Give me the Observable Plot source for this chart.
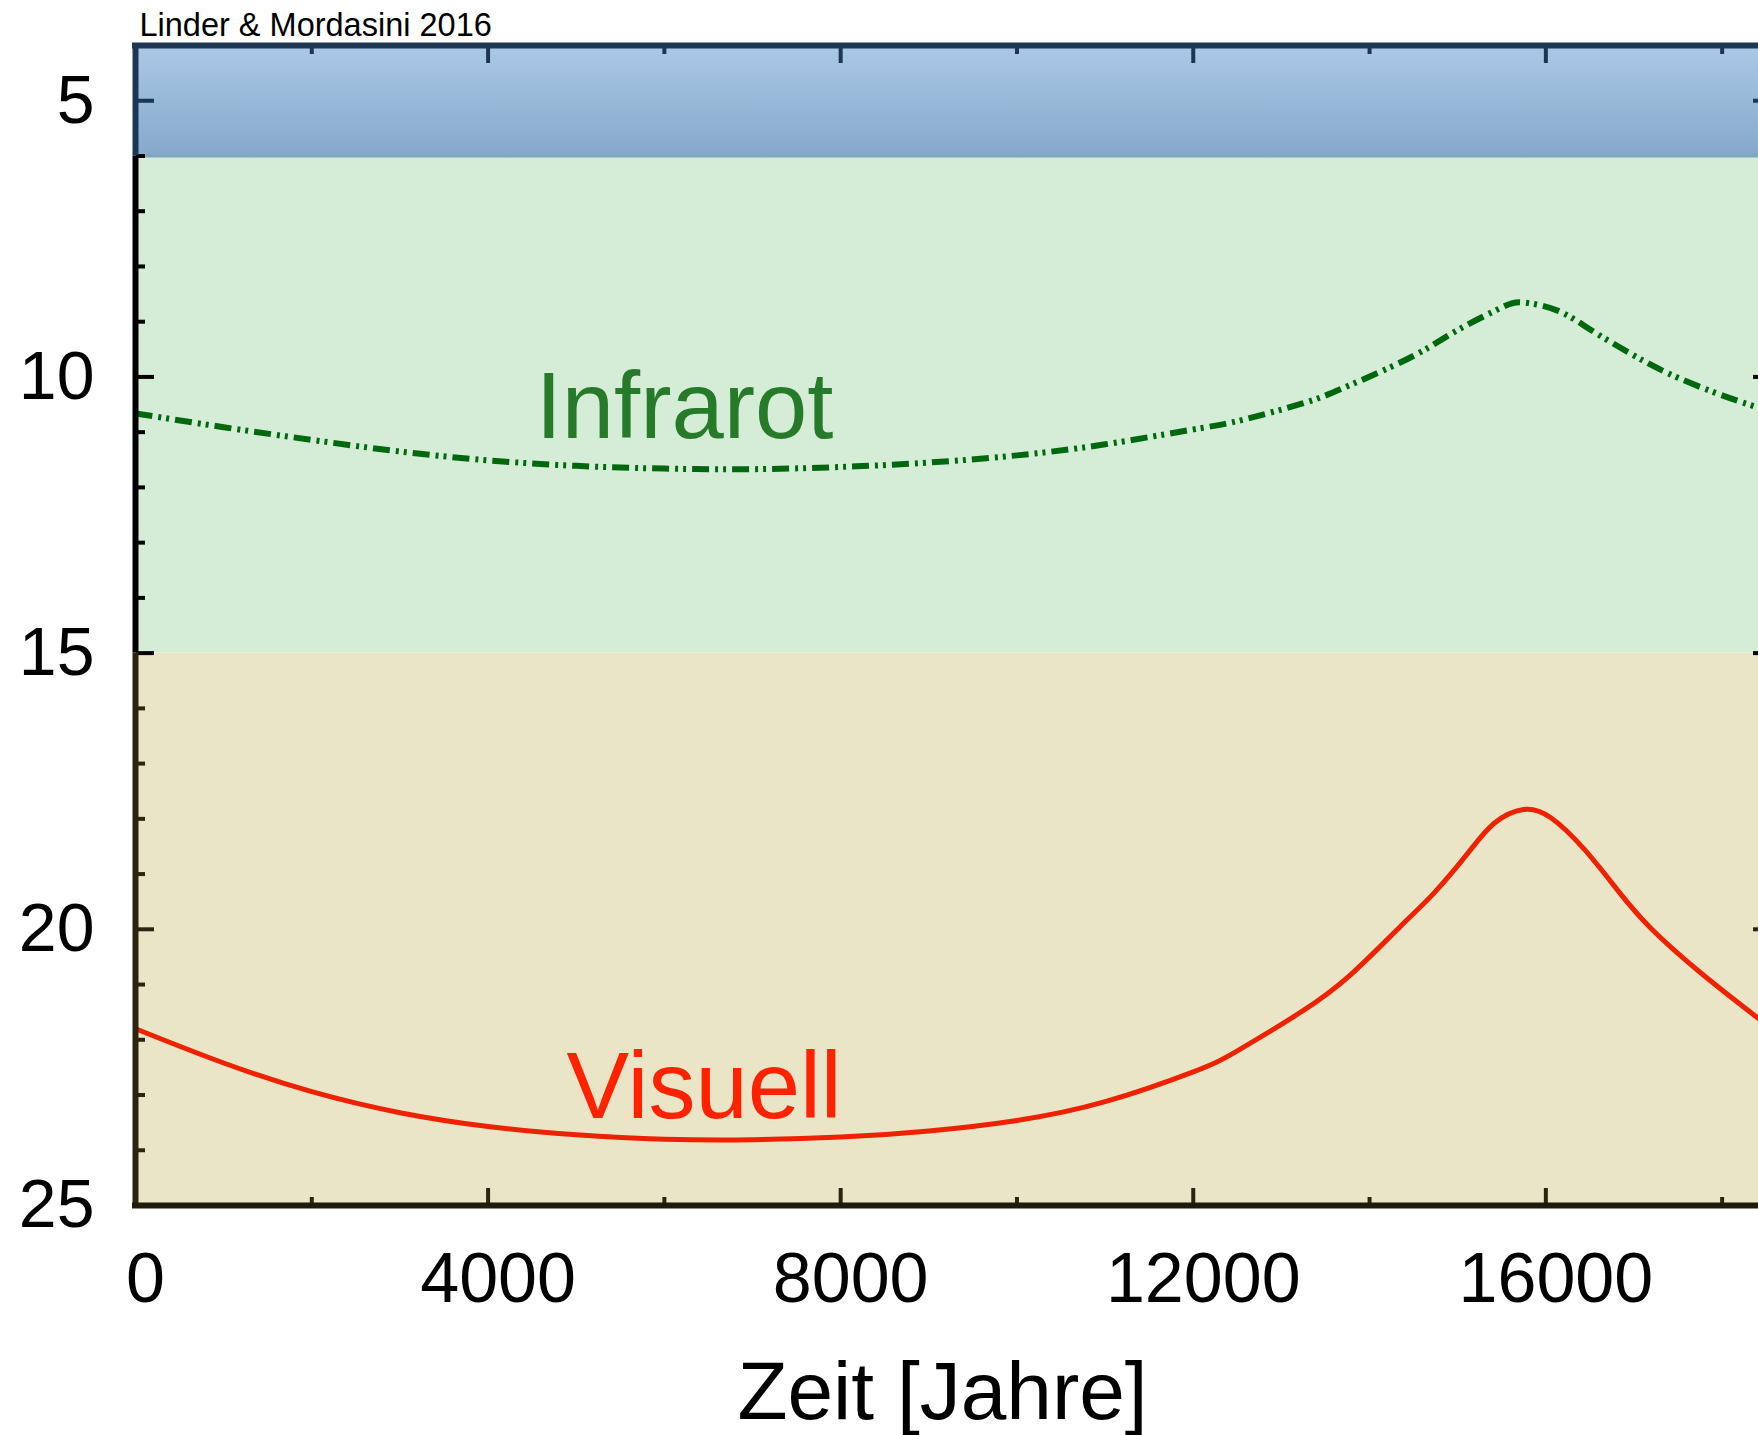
<!DOCTYPE html>
<html><head><meta charset="utf-8">
<script src="https://cdn.jsdelivr.net/npm/d3@7"></script>
<script src="https://cdn.jsdelivr.net/npm/@observablehq/plot@0.6"></script>
<style>
html,body{margin:0;padding:0;background:#fff;overflow:hidden;width:1758px;height:1435px}
#chart{width:1758px;height:1435px;overflow:hidden}
#chart svg{display:block;max-width:none !important;width:1776px !important;height:1435px !important}
</style>
</head><body><div id="chart"></div>
<script>
// ---- data ----
const irYears = [0,1000,2000,3000,4000,5000,6000,7000,8000,9000,10000,11000,12000,12500,13220,13674,14241,14657,15035,15489,15736,16133,16511,16965,17381,17910,18417];
const irMag   = [10.66,10.91,11.14,11.35,11.51,11.61,11.66,11.67,11.63,11.55,11.42,11.22,10.95,10.80,10.49,10.22,9.82,9.48,9.12,8.75,8.65,8.80,9.15,9.58,9.93,10.28,10.56];
const visYears = [0,1000,2000,3000,4000,5000,6000,7000,8000,9000,10000,11000,12000,12500,13220,13787,14355,14733,15111,15414,15747,16057,16435,16813,17191,17759,18417];
const visMag   = [21.80,22.42,22.94,23.32,23.57,23.72,23.80,23.81,23.76,23.65,23.46,23.12,22.58,22.20,21.50,20.82,19.94,19.34,18.63,18.08,17.83,17.98,18.55,19.29,19.98,20.79,21.62];
const bandLow  = [4, 6, 15];
const bandHigh = [6, 15, 25];
const xMajorTicks = [0, 4000, 8000, 12000, 16000];
const xMinorTicks = [2000, 6000, 10000, 14000, 18000];
const yMajorTicks = [5, 10, 15, 20, 25];
const yMinorTicks = [4,6,7,8,9,11,12,13,14,16,17,18,19,21,22,23,24];
const labelNames = ["Infrarot", "Visuell"];
const labelYears = [4540, 4890];
const labelMags  = [11.10, 23.42];
const xLabel = "Zeit [Jahre]";
const credit = "Linder & Mordasini 2016";
const xDomain = [0, 18560];
const yDomain = [4, 25];

// ---- styles ----
const navy = "#1c3654", black = "#000000", brown = "#2a2410";
const bandFrame = [navy, black, brown];
const bandFill = ["url(#blueBand)", "#d5ecd6", "#ebe5c8"];
const irColor = "#00690f", visColor = "#ee2200";
const irText = "#267a2a", visText = "#ff2200";

const ir = irYears.map((t, i) => ({t, m: irMag[i]}));
const vis = visYears.map((t, i) => ({t, m: visMag[i]}));
const bands = bandLow.map((lo, i) => ({lo, hi: bandHigh[i]}));
const labels = labelNames.map((name, i) => ({name, t: labelYears[i], m: labelMags[i]}));
const bandIdx = v => v < 6 ? 0 : v <= 15 ? 1 : 2;

const marks = [];
// bands
bands.forEach((b, i) => marks.push(Plot.rect([b], {x1: xDomain[0], x2: xDomain[1], y1: "lo", y2: "hi", fill: bandFill[i]})));
marks.push(Plot.ruleY([6], {stroke: "#7ea8bf", strokeWidth: 3}));
// curves
marks.push(Plot.line(ir, {x: "t", y: "m", stroke: irColor, strokeWidth: 6, strokeDasharray: "17,6,3,5,3,6", strokeLinecap: "butt", curve: "natural"}));
marks.push(Plot.line(vis, {x: "t", y: "m", stroke: visColor, strokeWidth: 5, curve: "natural"}));
// inward ticks, left & right
[0, 1, 2].forEach(b => {
  const maj = yMajorTicks.filter(v => bandIdx(v) === b);
  const min = yMinorTicks.filter(v => bandIdx(v) === b);
  const common = {fill: "none", label: null, stroke: bandFrame[b], strokeWidth: 4};
  marks.push(Plot.axisY(maj, {...common, anchor: "right", frameAnchor: "left", tickSize: 18}));
  marks.push(Plot.axisY(min, {...common, anchor: "right", frameAnchor: "left", tickSize: 9}));
  marks.push(Plot.axisY(maj, {...common, anchor: "left", frameAnchor: "right", tickSize: 18}));
  marks.push(Plot.axisY(min, {...common, anchor: "left", frameAnchor: "right", tickSize: 9}));
});
// inward ticks, top & bottom
marks.push(Plot.axisX(xMajorTicks, {fill: "none", label: null, stroke: navy, strokeWidth: 4, anchor: "bottom", frameAnchor: "top", tickSize: 18}));
marks.push(Plot.axisX(xMinorTicks, {fill: "none", label: null, stroke: navy, strokeWidth: 4, anchor: "bottom", frameAnchor: "top", tickSize: 9}));
marks.push(Plot.axisX(xMajorTicks, {fill: "none", label: null, stroke: brown, strokeWidth: 4, anchor: "top", frameAnchor: "bottom", tickSize: 18}));
marks.push(Plot.axisX(xMinorTicks, {fill: "none", label: null, stroke: brown, strokeWidth: 4, anchor: "top", frameAnchor: "bottom", tickSize: 9}));
// frame
bands.forEach((b, i) => {
  marks.push(Plot.ruleX([b], {x: xDomain[0], y1: "lo", y2: "hi", stroke: bandFrame[i], strokeWidth: 6}));
  marks.push(Plot.ruleX([b], {x: xDomain[1], y1: "lo", y2: "hi", stroke: bandFrame[i], strokeWidth: 6}));
});
marks.push(Plot.ruleY([yDomain[0]], {stroke: navy, strokeWidth: 6, strokeLinecap: "square"}));
marks.push(Plot.ruleY([yDomain[1]], {stroke: "#1f1a0a", strokeWidth: 6, strokeLinecap: "square"}));
// tick labels
marks.push(Plot.axisX(xMajorTicks, {anchor: "bottom", tickSize: 0, tickPadding: 47, fontSize: 70, dx: 10, label: null, tickFormat: d => String(d), fill: "#000"}));
marks.push(Plot.axisY(yMajorTicks, {anchor: "left", tickSize: 0, tickPadding: 41, fontSize: 68, label: null, tickFormat: d => String(d), fill: "#000"}));
// annotations
marks.push(Plot.text([labels[0]], {x: "t", y: "m", text: "name", textAnchor: "start", lineAnchor: "bottom", fontSize: 94, fill: irText}));
marks.push(Plot.text([labels[1]], {x: "t", y: "m", text: "name", textAnchor: "start", lineAnchor: "bottom", fontSize: 94, fill: visText}));
marks.push(Plot.text([xLabel], {text: d => d, frameAnchor: "bottom", dy: 213, dx: -11, lineAnchor: "bottom", fontSize: 82, fill: "#000"}));
marks.push(Plot.text([credit], {text: d => d, frameAnchor: "top-left", dy: -10, dx: 4, textAnchor: "start", lineAnchor: "bottom", fontSize: 32.5, fill: "#000"}));

const chart = Plot.plot({
  width: 1776,
  height: 1435,
  marginLeft: 135,
  marginRight: 5,
  marginTop: 45,
  marginBottom: 230,
  style: {fontFamily: "'Liberation Sans', Arial, sans-serif", background: "transparent", overflow: "visible", maxWidth: "none"},
  x: {domain: xDomain, axis: null},
  y: {domain: yDomain, reverse: true, axis: null},
  marks
});
const defs = d3.select(chart).insert("defs", ":first-child");
const g = defs.append("linearGradient").attr("id", "blueBand").attr("x1", 0).attr("y1", 0).attr("x2", 0).attr("y2", 1);
g.append("stop").attr("offset", "0%").attr("stop-color", "#abc9e7");
g.append("stop").attr("offset", "100%").attr("stop-color", "#86a8ca");
document.getElementById("chart").append(chart);
</script>
</body></html>
